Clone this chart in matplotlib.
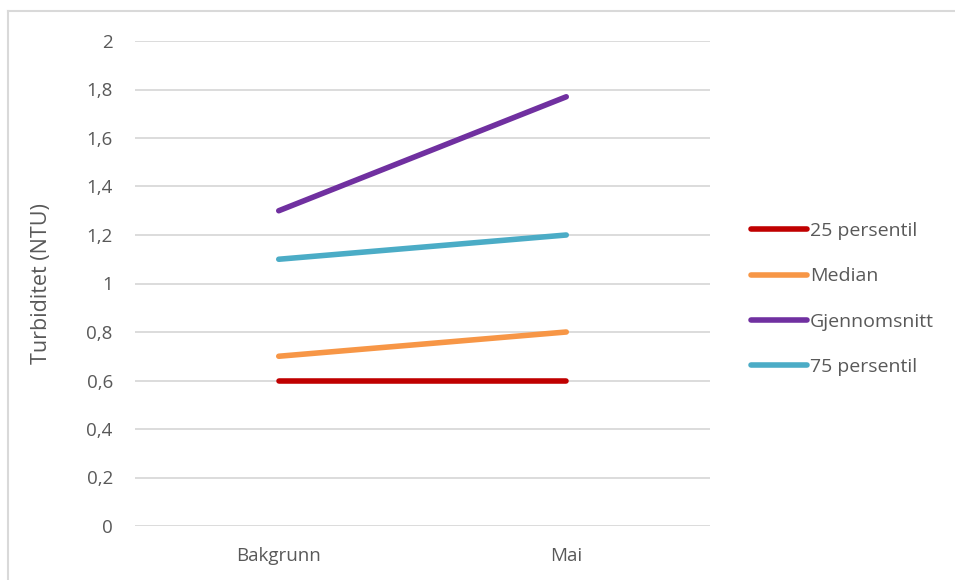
import matplotlib.pyplot as plt
from matplotlib.lines import Line2D
from matplotlib.ticker import FuncFormatter

plt.rcParams['font.family'] = ['Open Sans', 'DejaVu Sans']

# Data
kategorier = ["Bakgrunn", "Mai"]
p25 = [0.6, 0.6]
median = [0.7, 0.8]
snitt = [1.3, 1.77]
p75 = [1.1, 1.2]

serier = [
    ("25 persentil", p25, "#C00000"),
    ("Median", median, "#F79646"),
    ("Gjennomsnitt", snitt, "#7030A0"),
    ("75 persentil", p75, "#4BACC6"),
]

tekstfarge = "#595959"

fig = plt.figure(figsize=(9.55, 5.8), dpi=100)
ax = fig.add_axes([135 / 955, 54 / 580, 575 / 955, 485 / 580])

x = list(range(len(kategorier)))
for navn, verdier, farge in serier:
    ax.plot(x, verdier, color=farge, linewidth=4, solid_capstyle="round", label=navn, zorder=3)

ax.set_xlim(-0.5, 1.5)
ax.set_ylim(0, 2)
ax.set_yticks([i * 0.2 for i in range(11)])
ax.yaxis.set_major_formatter(FuncFormatter(lambda v, p: f"{v:.1f}".rstrip("0").rstrip(".").replace(".", ",")))
ax.set_xticks(x)
ax.set_xticklabels(kategorier)

ax.grid(axis="y", color="#D9D9D9", linewidth=1.3, zorder=0)
for s in ax.spines.values():
    s.set_visible(False)
ax.tick_params(length=0, labelsize=13.5, colors=tekstfarge)
ax.tick_params(axis="y", pad=16)
ax.tick_params(axis="x", pad=15)

ax.set_ylabel("Turbiditet (NTU)", fontsize=15.5, color=tekstfarge, labelpad=25)

# Legend drawn to the right of the plot area
fig.legend(handles=[Line2D([], [], color=f, linewidth=4, solid_capstyle="round") for _, _, f in serier],
           labels=[n for n, _, _ in serier],
           loc="center left", bbox_to_anchor=(741 / 955, 1 - 299 / 580),
           frameon=False, fontsize=14, labelcolor=tekstfarge,
           handlelength=2.9, handletextpad=0.15, labelspacing=1.4, borderpad=0)

# Chart frame
fig.add_artist(Line2D([8 / 955, 8 / 955], [0, 1 - 11 / 580], transform=fig.transFigure, color="#D9D9D9", linewidth=1.5))
fig.add_artist(Line2D([8 / 955, 1], [1 - 11 / 580, 1 - 11 / 580], transform=fig.transFigure, color="#D9D9D9", linewidth=1.5))

fig.savefig("out.png", dpi=100)
